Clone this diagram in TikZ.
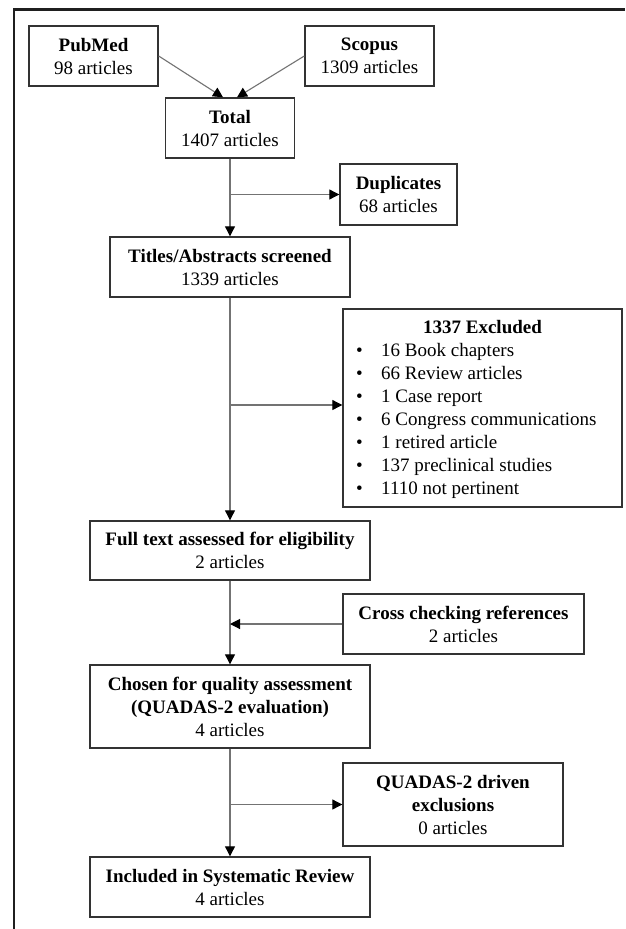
\documentclass[tikz,border=0pt]{standalone}
\usepackage{fontspec}
\setmainfont{Liberation Serif}
\usetikzlibrary{arrows.meta,calc}
\newcommand\diagfont{\fontsize{19}{23}\selectfont}
\begin{document}
\begin{tikzpicture}[x=1pt,y=-1pt,
  box/.style={draw=black!80, line width=1.4pt, align=center, inner sep=0pt, font=\diagfont},
  plain/.style={inner sep=0pt, font=\diagfont},
  conn/.style={draw=black!55, line width=1.1pt},
  arr/.style={conn, -{Triangle[length=10pt,width=10pt,color=black]}},
  frame/.style={draw=black!88, line width=2.5pt}
]
\useasboundingbox (0,0) rectangle (625,929);
\fill[white] (0,0) rectangle (625,929);
\draw[frame] (14,929) -- (14,9.5) -- (625,9.5);

% boxes
\node[box, minimum width=129pt, minimum height=60pt] (pub) at (93.5,56) {\textbf{PubMed}\\98 articles};
\node[box, minimum width=129pt, minimum height=60pt] (sco) at (369.5,56) {\textbf{Scopus}\\1309 articles};
\node[box, minimum width=129pt, minimum height=60pt] (tot) at (230,128) {\textbf{Total}\\1407 articles};
\node[box, minimum width=117pt, minimum height=61pt] (dup) at (398.5,194.5) {\textbf{Duplicates}\\68 articles};
\node[box, minimum width=240pt, minimum height=60pt] (tit) at (230,267) {\textbf{Titles/Abstracts screened}\\1339 articles};
\node[box, minimum width=279pt, minimum height=198pt] (exc) at (482.5,408) {};
\node[plain, anchor=base] (exct) at (482.5,333) {\textbf{1337 Excluded}};
\node[plain, anchor=base west] (excl) at (356,356.5) {\begin{tabular}[t]{@{}p{25pt}@{}l@{}}
\textbullet & 16 Book chapters\\
\textbullet & 66 Review articles\\
\textbullet & 1 Case report\\
\textbullet & 6 Congress communications\\
\textbullet & 1 retired article\\
\textbullet & 137 preclinical studies\\
\textbullet & 1110 not pertinent
\end{tabular}};
\node[box, minimum width=280pt, minimum height=59pt] (ful) at (230,550.5) {\textbf{Full text assessed for eligibility}\\2 articles};
\node[box, minimum width=241pt, minimum height=60pt] (cro) at (463.5,624) {\textbf{Cross checking references}\\2 articles};
\node[box, minimum width=280pt, minimum height=83pt] (cho) at (230,706.5) {\textbf{Chosen for quality assessment}\\\textbf{(QUADAS-2 evaluation)}\\4 articles};
\node[box, minimum width=220pt, minimum height=83pt] (qua) at (453,804.5) {\textbf{QUADAS-2 driven}\\\textbf{exclusions}\\0 articles};
\node[box, minimum width=280pt, minimum height=60pt] (inc) at (230,887) {\textbf{Included in Systematic Review}\\4 articles};

% connectors
\draw[arr] (pub.east) -- ($(tot.north)+(-7,0)$);
\draw[arr] (sco.west) -- ($(tot.north)+(7,0)$);
\draw[arr] (tot.south) -- (tit.north);
\draw[arr] (tot.south |- dup.west) -- (dup.west);
\draw[arr] (tit.south) -- (ful.north);
\draw[arr] ($(tit.south |- exc.west)+(0,-3)$) -- ($(exc.west)+(0,-3)$);
\draw[arr] (ful.south) -- (cho.north);
\draw[arr] (cro.west) -- (ful.south |- cro.west);
\draw[arr] (cho.south) -- (inc.north);
\draw[arr] (cho.south |- qua.west) -- (qua.west);
\end{tikzpicture}
\end{document}
